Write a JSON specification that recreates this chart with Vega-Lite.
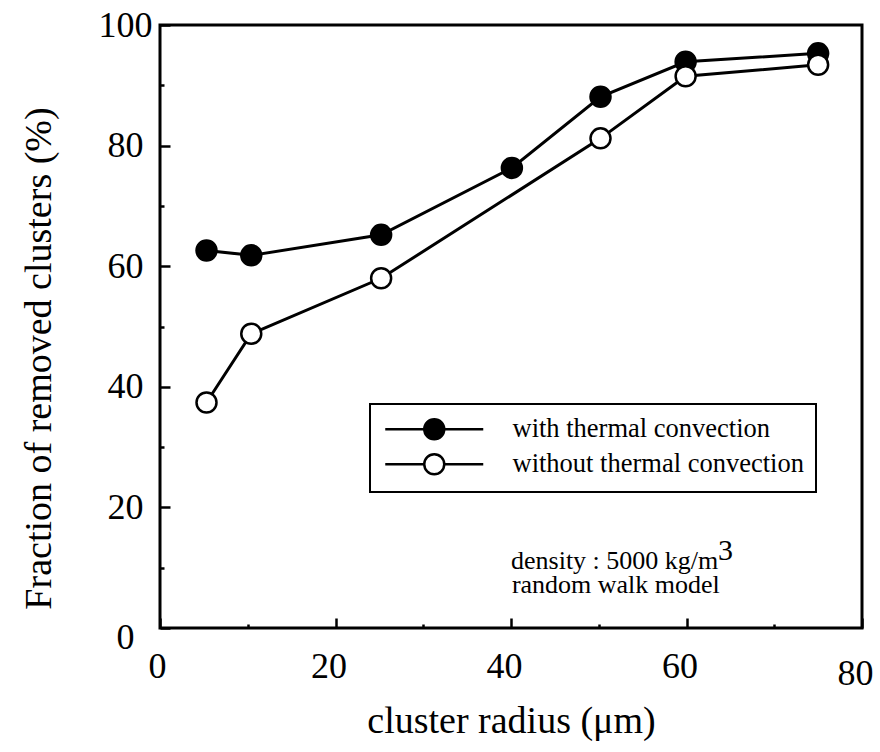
{
  "$schema": "https://vega.github.io/schema/vega-lite/v6.json",
  "width": 702,
  "height": 603,
  "autosize": {"type": "none"},
  "padding": {"left": 160, "top": 25, "right": 18, "bottom": 124},
  "background": "white",
  "data": {
    "values": [
      {"series": "with thermal convection", "r": 5.3, "f": 62.6},
      {"series": "with thermal convection", "r": 10.4, "f": 61.8},
      {"series": "with thermal convection", "r": 25.2, "f": 65.2},
      {"series": "with thermal convection", "r": 40.1, "f": 76.3},
      {"series": "with thermal convection", "r": 50.2, "f": 88.1},
      {"series": "with thermal convection", "r": 59.9, "f": 93.9},
      {"series": "with thermal convection", "r": 75.0, "f": 95.3},
      {"series": "without thermal convection", "r": 5.3, "f": 37.4},
      {"series": "without thermal convection", "r": 10.4, "f": 48.8},
      {"series": "without thermal convection", "r": 25.2, "f": 58.0},
      {"series": "without thermal convection", "r": 50.2, "f": 81.2},
      {"series": "without thermal convection", "r": 59.9, "f": 91.5},
      {"series": "without thermal convection", "r": 75.0, "f": 93.4}
    ]
  },
  "resolve": {"axis": {"x": "independent", "y": "independent"}},
  "layer": [
    {
      "mark": {"type": "line", "stroke": "black", "strokeWidth": 3},
      "encoding": {
        "x": {
          "field": "r", "type": "quantitative",
          "scale": {"domain": [0, 80], "nice": false},
          "axis": {
            "orient": "bottom",
            "title": "cluster radius (μm)",
            "values": [0, 20, 40, 60, 80],
            "tickSize": -10,
            "labelPadding": {"condition": {"test": "datum.value === 80", "value": 38}, "value": 31},
            "labelOffset": {"condition": {"test": "datum.value === 0", "value": -3}, "value": -7},
            "labelFlush": false,
            "titlePadding": 11
          }
        },
        "y": {
          "field": "f", "type": "quantitative",
          "scale": {"domain": [0, 100], "nice": false},
          "axis": {
            "orient": "left",
            "title": "Fraction of removed clusters (%)",
            "values": [0, 20, 40, 60, 80, 100],
            "tickSize": -10,
            "labelAlign": "center",
            "labelPadding": 45,
            "labelOffset": {"condition": {"test": "datum.value === 0", "value": 9}, "value": 0},
            "labelFlush": false,
            "titlePadding": 40,
            "titleY": 333
          }
        },
        "detail": {"field": "series"}
      }
    },
    {
      "mark": {"type": "point", "shape": "circle", "filled": true, "size": 400, "stroke": "black", "strokeWidth": 2.5, "opacity": 1},
      "encoding": {
        "x": {
          "field": "r", "type": "quantitative",
          "axis": {"orient": "bottom", "title": null, "labels": false, "values": [10, 30, 50, 70], "tickSize": -4}
        },
        "y": {
          "field": "f", "type": "quantitative",
          "axis": {"orient": "left", "title": null, "labels": false, "values": [10, 30, 50, 70, 90], "tickSize": -4}
        },
        "fill": {
          "field": "series", "type": "nominal",
          "scale": {"domain": ["with thermal convection", "without thermal convection"], "range": ["black", "white"]},
          "legend": {
            "title": null,
            "orient": "none",
            "legendX": 210,
            "legendY": 379,
            "symbolType": "M-4.9,0L-1,0M1,0L4.9,0M-1,0A1,1,0,1,1,1,0A1,1,0,1,1,-1,0Z",
            "symbolSize": 400,
            "symbolStrokeColor": "black",
            "symbolStrokeWidth": 2.5,
            "symbolOffset": 39,
            "labelOffset": 65,
            "labelFont": "Liberation Serif",
            "labelFontSize": 26.5,
            "labelColor": "black",
            "labelLimit": 500,
            "strokeColor": "black",
            "padding": 12,
            "rowPadding": 4
          }
        }
      }
    },
    {
      "data": {"values": [{"t": "density : 5000 kg/m"}]},
      "mark": {"type": "text", "align": "left", "baseline": "middle", "font": "Liberation Serif", "fontSize": 26, "color": "black"},
      "encoding": {"x": {"datum": 40.0, "axis": null}, "y": {"datum": 11.1, "axis": null}, "text": {"field": "t"}}
    },
    {
      "data": {"values": [{"t": "3"}]},
      "mark": {"type": "text", "align": "left", "baseline": "middle", "font": "Liberation Serif", "fontSize": 30, "color": "black"},
      "encoding": {"x": {"datum": 63.6, "axis": null}, "y": {"datum": 12.8, "axis": null}, "text": {"field": "t"}}
    },
    {
      "data": {"values": [{"t": "random walk model"}]},
      "mark": {"type": "text", "align": "left", "baseline": "middle", "font": "Liberation Serif", "fontSize": 26, "color": "black"},
      "encoding": {"x": {"datum": 40.1, "axis": null}, "y": {"datum": 7.1, "axis": null}, "text": {"field": "t"}}
    }
  ],
  "config": {
    "view": {"stroke": "black", "strokeWidth": 3},
    "axis": {
      "domain": false,
      "grid": false,
      "tickColor": "black",
      "tickWidth": 2.5,
      "labelColor": "black",
      "titleColor": "black",
      "labelFont": "Liberation Serif",
      "titleFont": "Liberation Serif",
      "labelFontSize": 36,
      "titleFontSize": 38,
      "titleFontWeight": "normal"
    },
    "legend": {"strokeWidth": 2}
  }
}
